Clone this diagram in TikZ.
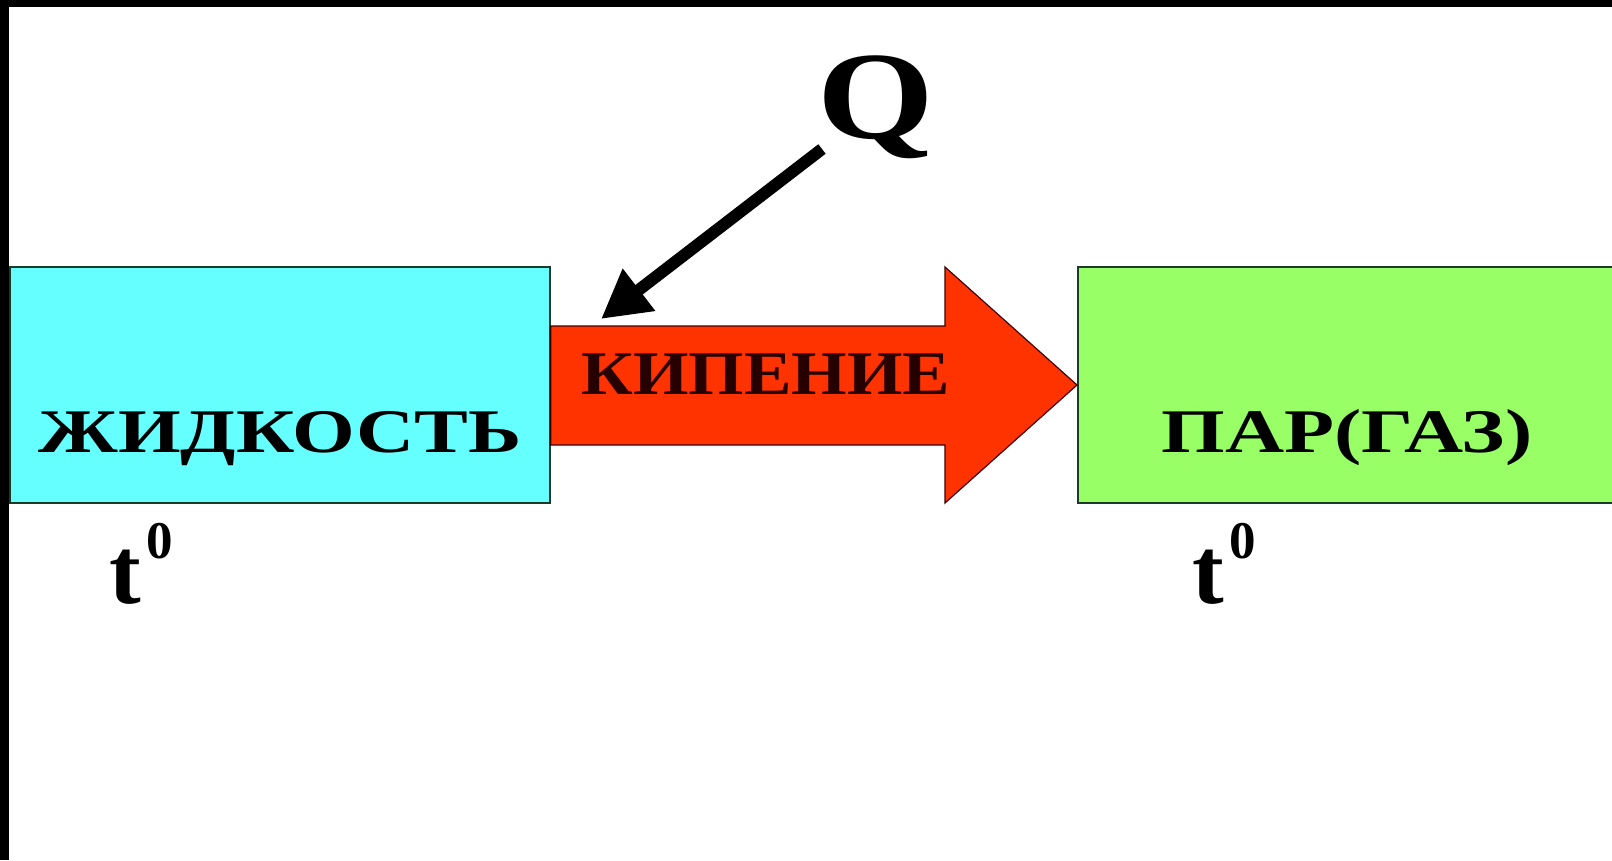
\documentclass[tikz,border=0pt]{standalone}
\usepackage{fontspec}
\setmainfont{Liberation Serif}
\usetikzlibrary{arrows.meta,calc}
\definecolor{liqcol}{HTML}{66FFFF}
\definecolor{vapcol}{HTML}{99FF66}
\definecolor{boilcol}{HTML}{FF3300}
\definecolor{edgecol}{HTML}{1A3A2A}
\newcommand{\tzero}{{\fontsize{95}{95}\selectfont\bfseries t}\hspace{6pt}\raisebox{45pt}{\fontsize{53}{53}\selectfont\bfseries 0}}
\tikzset{
  statebox/.style={draw=edgecol, line width=1.5pt, inner sep=0pt, minimum height=236pt},
  bigtxt/.style={font=\fontsize{62}{62}\selectfont\bfseries, inner sep=0pt, anchor=base},
  tlabel/.style={inner sep=0pt, anchor=base west},
  qtxt/.style={font=\fontsize{125}{125}\selectfont\bfseries, inner sep=0pt, anchor=base},
  boilarrow/.style={fill=boilcol, draw=black!75!red, line width=1.2pt, line join=miter},
  heatarrow/.style={line width=12pt, -{Triangle[length=48pt,width=50pt]}}
}
\begin{document}
\begin{tikzpicture}[x=1pt,y=-1pt]
\clip (0,0) rectangle (1612,860);
\fill[white] (0,0) rectangle (1612,860);
\fill[black] (0,0) rectangle (1612,7);
\fill[black] (0,0) rectangle (9,860);
% boxes
\node[statebox, fill=liqcol, minimum width=540pt] (liquid) at (280,385) {};
\node[statebox, fill=vapcol, minimum width=570pt, anchor=west] (vapor) at (1077,385) {};
% big arrow (boiling)
\draw[boilarrow] ($(liquid.east)+(0,-59)$) -- (945,326) -- (945,267) -- (vapor.west)
  -- (945,503) -- (945,445) -- ($(liquid.east)+(0,60)$) -- cycle;
% texts
\node[bigtxt] (liquidtxt) at (280,452) {\scalebox{1.30}[1]{ЖИДКОСТЬ}};
\node[bigtxt, text=black!85!red] (boiltxt) at (766,394) {\scalebox{1.15}[1]{КИПЕНИЕ}};
\node[bigtxt] (vaportxt) at (1347,452) {\scalebox{1.32}[1]{ПАР(ГАЗ)}};
\node[tlabel] (tliq) at (109,603) {\tzero};
\node[tlabel] (tvap) at (1192,603) {\tzero};
\node[qtxt] (heat) at (876,138) {\scalebox{1.2}[1]{Q}};
% heat arrow
\coordinate (qs) at (822,149);
\coordinate (qe) at (601,319);
\draw[heatarrow] (qs) -- (qe);
\end{tikzpicture}
\end{document}
